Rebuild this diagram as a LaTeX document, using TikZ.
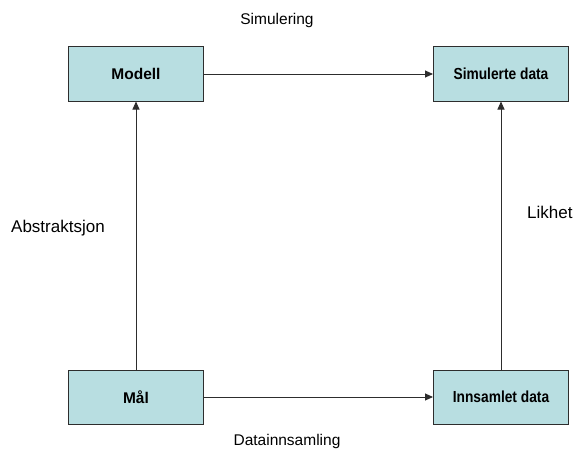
\documentclass[tikz,border=0pt]{standalone}
\usepackage{fontspec}
\setmainfont{Liberation Sans}
\newfontfamily\narrowfont[FakeStretch=0.86]{Liberation Sans}
\usetikzlibrary{arrows.meta}
\definecolor{boxfill}{RGB}{184,222,225}
\definecolor{edgegray}{RGB}{45,45,45}
\tikzset{
  box/.style={draw=edgegray, line width=1pt, fill=boxfill,
    minimum width=135pt, minimum height=54pt, inner sep=0pt, font=\bfseries\fontsize{15.5}{18}\selectfont},
  narrowbox/.style={box, font=\narrowfont\bfseries\fontsize{16}{19}\selectfont},
  link/.style={draw=edgegray, line width=0.9pt, -{Triangle[length=8pt,width=7pt]}},
  label/.style={inner sep=0pt, font=\fontsize{15.5}{18}\selectfont},
  sidelabel/.style={inner sep=0pt, font=\fontsize{17}{20}\selectfont}
}
\begin{document}
\begin{tikzpicture}[x=1pt,y=1pt]
  \useasboundingbox (0,0) rectangle (576,451);
  \node[box] (modell) at (136,377) {Modell};
  \node[narrowbox] (sim) at (501,377) {Simulerte data};
  \node[box] (maal) at (136,54) {Mål};
  \node[narrowbox] (inn) at (501,54) {Innsamlet data};
  \draw[link] (modell) -- (sim);
  \draw[link] (maal) -- (inn);
  \draw[link] (maal) -- (modell);
  \draw[link] (inn) -- (sim);
  \node[label] (simlab) at (277,431) {Simulering};
  \node[label] (datalab) at (287,10) {Datainnsamling};
  \node[sidelabel, anchor=west] (abs) at (11,223) {Abstraktsjon};
  \node[sidelabel, anchor=west] (likhet) at (527,239) {Likhet};
\end{tikzpicture}
\end{document}
